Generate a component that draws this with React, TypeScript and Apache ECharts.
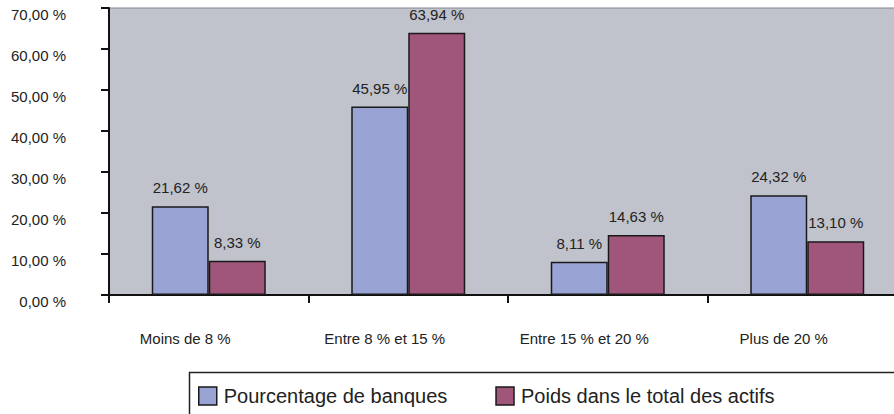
import React, { useEffect, useRef } from "react";
import * as echarts from "echarts";

const categories = ["Moins de 8 %", "Entre 8 % et 15 %", "Entre 15 % et 20 %", "Plus de 20 %"];
const seriesNames = ["Pourcentage de banques", "Poids dans le total des actifs"];
const banques = [21.62, 45.95, 8.11, 24.32];
const poids = [8.33, 63.94, 14.63, 13.1];
const yMin = 0;
const yMax = 70;
const yStep = 10;

const fmt = (v: number) => v.toFixed(2).replace(".", ",") + " %";

export default function App() {
  const ref = useRef<HTMLDivElement>(null);
  useEffect(() => {
    if (!ref.current) return;
    const chart = echarts.init(ref.current, null, { renderer: "svg" });
    const font = "'Liberation Sans', Arial, sans-serif";
    const labelStyle = {
      show: true,
      position: "top" as const,
      distance: 11,
      color: "#222",
      fontSize: 15,
      fontFamily: font,
      formatter: (p: any) => fmt(p.value),
    };
    chart.setOption({
      animation: false,
      backgroundColor: "#ffffff",
      textStyle: { fontFamily: font },
      grid: {
        left: 109,
        top: 8,
        right: 13,
        bottom: 119,
        show: true,
        backgroundColor: "#C0C3CB",
        borderColor: "#7f8590",
        borderWidth: 1,
        containLabel: false,
      },
      graphic: [
        {
          type: "rect",
          shape: { x: 189.5, y: 372.5, width: 800, height: 100 },
          style: { fill: "none", stroke: "#222", lineWidth: 1.5 },
          silent: true,
        },
      ],
      legend: {
        left: 198,
        top: 386,
        orient: "horizontal",
        padding: 0,
        itemWidth: 18,
        itemHeight: 18,
        itemGap: 48,
        icon: "rect",
        itemStyle: { borderColor: "#1a1a1a", borderWidth: 1.5 },
        textStyle: { fontSize: 20, color: "#222", fontFamily: font, padding: [0, 0, 0, 2] },
        data: seriesNames,
      },
      xAxis: {
        type: "category",
        data: categories,
        boundaryGap: true,
        axisLine: { show: true, lineStyle: { color: "#111", width: 2 } },
        axisTick: { show: true, length: 8, lineStyle: { color: "#111", width: 2 }, alignWithLabel: false },
        axisLabel: {
          margin: 36,
          color: "#222",
          fontSize: 15,
          fontFamily: font,
          padding: [0, 47, 0, 0],
        },
        splitLine: { show: false },
      },
      yAxis: {
        type: "value",
        min: yMin,
        max: yMax,
        interval: yStep,
        axisLine: { show: true, lineStyle: { color: "#111", width: 2 } },
        axisTick: { show: true, length: 8, lineStyle: { color: "#111", width: 2 } },
        axisLabel: {
          margin: 43,
          color: "#222",
          fontSize: 15,
          fontFamily: font,
          verticalAlign: "top",
          lineHeight: 12,
          formatter: (v: number) => fmt(v),
        },
        splitLine: { show: false },
      },
      series: [
        {
          name: seriesNames[0],
          type: "bar",
          data: banques,
          barWidth: 57,
          barGap: "0%",
          itemStyle: { color: "#99A3D4", borderColor: "#1a1a1a", borderWidth: 1.5 },
          label: labelStyle,
        },
        {
          name: seriesNames[1],
          type: "bar",
          data: poids,
          barWidth: 57,
          barGap: "0%",
          itemStyle: { color: "#A0557A", borderColor: "#1a1a1a", borderWidth: 1.5 },
          label: labelStyle,
        },
      ],
    });
    return () => chart.dispose();
  }, []);
  return (
    <div
      style={{ position: "absolute", left: 0, top: 0, width: 894, height: 414, overflow: "hidden" }}
    >
      <div ref={ref} style={{ width: 920, height: 414 }} />
    </div>
  );
}
